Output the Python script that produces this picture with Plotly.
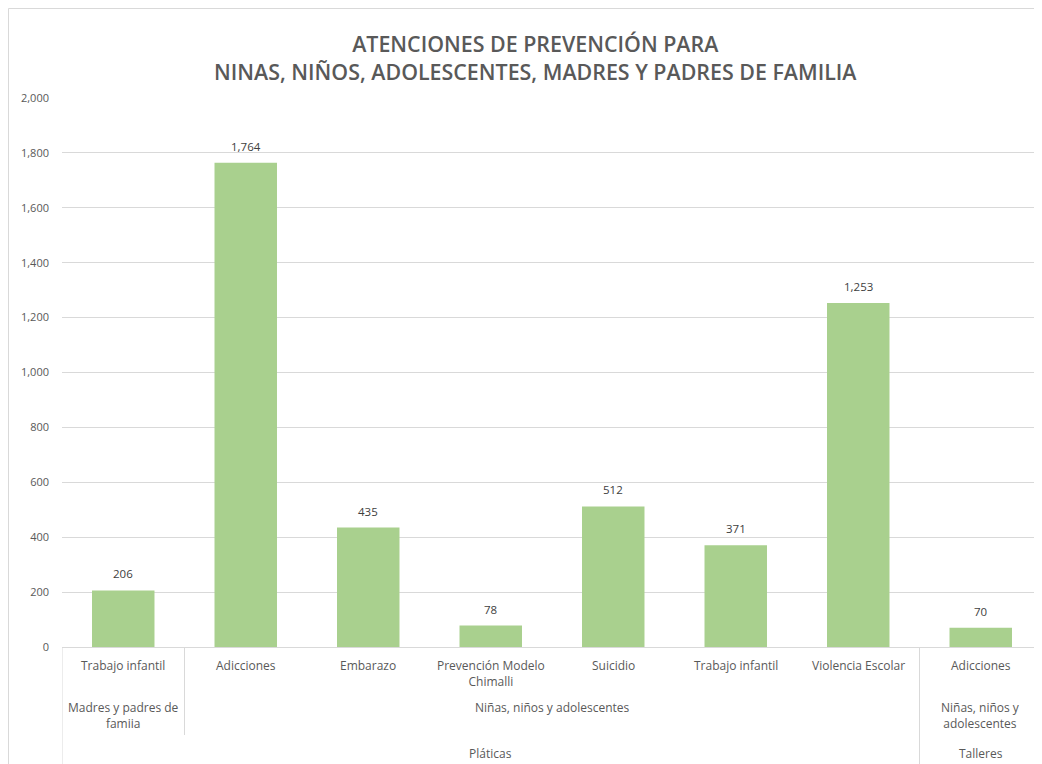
import plotly.graph_objects as go

# ---- data ----
temas = ["Trabajo infantil", "Adicciones", "Embarazo", "Prevención Modelo<br>Chimalli",
         "Suicidio", "Trabajo infantil", "Violencia Escolar", "Adicciones"]
valores = [206, 1764, 435, 78, 512, 371, 1253, 70]
# level 2 groups: (label, first index, last index)
publico = [("Madres y padres de<br>famiia", 0, 0),
           ("Niñas, niños y adolescentes", 1, 6),
           ("Niñas, niños y<br>adolescentes", 7, 7)]
# level 3 groups
modalidad = [("Pláticas", 0, 6), ("Talleres", 7, 7)]
titulo = "ATENCIONES DE PREVENCIÓN PARA<br>NINAS, NIÑOS, ADOLESCENTES, MADRES Y PADRES DE FAMILIA"

# page has an 8px body margin -> figure is 1034 x 756
W, H = 1034, 756
ML, MR, MT, MB = 54, 0, 90, 117
PH = H - MT - MB
PW = W - ML - MR
FONT = "Open Sans"
GRAY = "#595959"
LINE = "#d9d9d9"

xs = list(range(len(valores)))

fig = go.Figure(go.Bar(
    x=xs, y=valores, width=0.51,
    marker=dict(color="#a9d08e", line=dict(width=0)),
    cliponaxis=False, hoverinfo="x+y",
))

def py(px):
    """pixel offset below the x axis -> paper coordinate"""
    return -px / PH

annotations = []
# data labels
for i, v in enumerate(valores):
    annotations.append(dict(x=i, y=v, xref="x", yref="y", text=f"{v:,}", showarrow=False,
                            yanchor="bottom", yshift=7,
                            font=dict(family=FONT, size=11.5, color="#404040")))
# level 1
for i, t in enumerate(temas):
    annotations.append(dict(x=i, y=py(8), xref="x", yref="paper", text=t, showarrow=False,
                            yanchor="top", font=dict(family=FONT, size=12, color=GRAY)))
# level 2
for lab, a, b in publico:
    annotations.append(dict(x=(a + b) / 2, y=py(50), xref="x", yref="paper", text=lab,
                            showarrow=False, yanchor="top",
                            font=dict(family=FONT, size=12, color=GRAY)))
# level 3
for lab, a, b in modalidad:
    annotations.append(dict(x=(a + b) / 2, y=py(96), xref="x", yref="paper", text=lab,
                            showarrow=False, yanchor="top",
                            font=dict(family=FONT, size=12, color=GRAY)))
# title
annotations.append(dict(x=(527 - ML) / PW, y=1 + 40 / PH, xref="paper", yref="paper",
                        text=titulo, showarrow=False, yanchor="middle", align="center",
                        font=dict(family=FONT, size=21.4, color=GRAY, weight=600)))

shapes = []
# separators
for xb, depth in [(-0.5, MB), (0.5, 88), (6.5, MB)]:
    shapes.append(dict(type="line", xref="x", yref="paper", x0=xb, x1=xb, y0=0, y1=py(depth),
                       line=dict(color=LINE, width=1)))
# outer border
shapes.append(dict(type="rect", xref="paper", yref="paper", x0=-(ML - 0.5) / PW,
                   x1=1 + 20 / PW, y0=-(MB + 20) / PH, y1=1 + (MT - 0.5) / PH,
                   line=dict(color=LINE, width=1)))

fig.update_layout(
    width=W, height=H,
    margin=dict(l=ML, r=MR, t=MT, b=MB),
    paper_bgcolor="white", plot_bgcolor="white",
    showlegend=False,
    xaxis=dict(range=[-0.5, 7.5], showticklabels=False, showgrid=False, zeroline=False,
               showline=True, linecolor=LINE, linewidth=1, ticks="", fixedrange=True),
    yaxis=dict(range=[0, 2000], dtick=200, tickformat=",", showgrid=True, gridcolor=LINE,
               gridwidth=1, zeroline=False, showline=False, ticks="",
               tickfont=dict(family=FONT, size=11, color=GRAY), ticklabelstandoff=12),
    annotations=annotations,
    shapes=shapes,
)

fig.write_html("out.html")
